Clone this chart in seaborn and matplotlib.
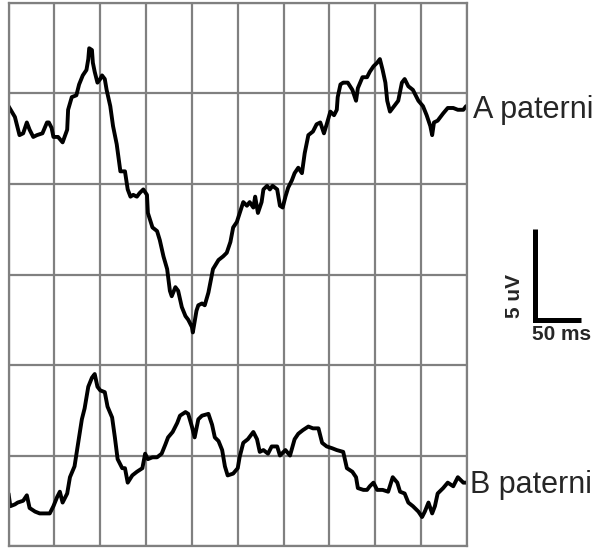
import numpy as np
import pandas as pd
import seaborn as sns
import matplotlib.pyplot as plt

sns.set_style("white")
plt.rcParams["font.family"] = ["Liberation Sans", "DejaVu Sans"]

# trace A (time in ms, amplitude in uV on the 0-30 uV grid)
a_time = [0, 7, 12, 16, 20, 23, 27, 31, 37, 42, 44, 47, 49, 54, 59, 64, 65, 69, 74, 77,
          81, 85, 87, 88, 91, 92, 94, 97, 100, 102, 105, 107, 111, 114, 118, 122, 127, 130,
          133, 136, 140, 143, 147, 151, 152, 157, 162, 165, 169, 173, 176, 178, 182, 185,
          189, 193, 196, 200, 201, 205, 207, 211, 214, 218, 223, 229, 234, 238, 242, 245,
          249, 254, 256, 260, 263, 267, 269, 272, 276, 278, 282, 285, 288, 293, 296, 299,
          302, 305, 309, 312, 316, 320, 323, 327, 332, 336, 340, 344, 347, 351, 355, 358,
          359, 362, 365, 370, 375, 379, 381, 386, 391, 394, 398, 402, 405, 408, 411, 413,
          416, 419, 425, 429, 432, 436, 441, 447, 452, 456, 460, 462, 464, 468, 474, 479,
          485, 490, 496, 499]
a_uv = [24.3, 23.7, 22.7, 22.8, 23.4, 23.0, 22.6, 22.7, 22.8, 23.4, 23.4, 23.1, 22.6, 22.6,
        22.3, 23.0, 24.1, 24.8, 24.9, 25.5, 26.0, 26.3, 26.9, 27.5, 27.4, 26.7, 26.2, 25.6,
        25.8, 26.0, 25.8, 25.2, 24.3, 23.2, 22.2, 20.7, 20.7, 19.7, 19.3, 19.4, 19.3, 19.5,
        19.7, 19.4, 18.4, 17.6, 17.4, 16.9, 16.0, 15.3, 14.1, 13.8, 14.3, 14.1, 13.2, 12.7,
        12.5, 12.1, 11.8, 13.0, 13.3, 13.4, 13.3, 14.0, 15.3, 15.8, 16.0, 16.2, 16.8, 17.6,
        17.9, 18.7, 19.0, 18.8, 19.0, 18.7, 19.3, 18.4, 19.0, 19.7, 19.9, 19.7, 19.9, 19.7,
        18.8, 18.7, 19.3, 19.8, 20.2, 20.6, 20.9, 20.6, 21.7, 22.7, 22.9, 23.3, 23.4, 22.8,
        23.3, 24.0, 23.8, 24.1, 24.8, 25.5, 25.6, 25.6, 25.2, 24.6, 25.3, 25.9, 25.9, 26.2,
        26.5, 26.7, 26.9, 26.3, 25.6, 24.6, 24.0, 24.2, 24.6, 25.6, 25.8, 25.4, 25.2, 24.6,
        24.3, 23.8, 23.2, 22.7, 23.4, 23.5, 23.9, 24.2, 24.2, 24.1, 24.1, 24.3]

# trace B
b_time = [0, 2, 7, 10, 16, 20, 23, 29, 34, 40, 45, 49, 53, 56, 59, 64, 67, 72, 76, 80, 83,
          87, 91, 94, 97, 100, 105, 108, 113, 116, 119, 124, 127, 130, 135, 140, 146, 149,
          152, 157, 162, 167, 171, 174, 179, 184, 187, 193, 196, 200, 203, 207, 211, 218,
          222, 225, 229, 233, 236, 239, 245, 250, 252, 256, 261, 267, 271, 274, 278, 283,
          287, 293, 296, 302, 307, 312, 316, 321, 327, 332, 338, 342, 347, 353, 358, 365,
          369, 375, 379, 381, 387, 391, 394, 398, 402, 408, 414, 419, 424, 427, 432, 436,
          441, 447, 451, 454, 458, 462, 465, 468, 474, 479, 485, 490, 496, 499]
b_uv = [2.9, 2.2, 2.3, 2.4, 2.5, 2.8, 2.1, 1.9, 1.8, 1.8, 1.8, 2.2, 2.7, 3.0, 2.4, 2.9, 3.8,
        4.4, 5.7, 7.0, 7.6, 8.8, 9.3, 9.5, 8.8, 8.6, 8.5, 7.7, 7.1, 6.0, 4.8, 4.3, 4.3, 3.5,
        3.9, 4.1, 4.3, 5.1, 4.8, 4.9, 4.9, 5.1, 5.6, 6.0, 6.3, 6.8, 7.2, 7.4, 7.3, 6.6, 6.0,
        7.0, 7.2, 7.3, 6.7, 6.0, 5.8, 5.3, 4.4, 3.9, 4.0, 4.3, 4.9, 5.7, 5.9, 6.3, 5.9, 5.2,
        5.3, 5.1, 5.5, 5.5, 5.0, 5.3, 5.0, 5.9, 6.2, 6.4, 6.6, 6.5, 6.5, 5.7, 5.5, 5.4, 5.3,
        5.2, 4.3, 4.1, 3.8, 3.2, 3.1, 3.1, 3.3, 3.5, 3.1, 3.1, 3.0, 3.8, 3.5, 3.0, 2.9, 2.4,
        2.2, 1.9, 1.6, 1.9, 2.4, 1.8, 2.2, 2.9, 3.2, 3.5, 3.3, 3.8, 3.5, 3.5]

labels = ["A paterni", "B paterni"]

df = pd.concat([
    pd.DataFrame({"ms": a_time, "uV": a_uv, "trace": labels[0]}),
    pd.DataFrame({"ms": b_time, "uV": b_uv, "trace": labels[1]}),
])

fig = plt.figure(figsize=(6.04, 5.49), dpi=100)
ax = fig.add_axes([8.5 / 604, 3 / 549, 458.5 / 604, 543 / 549])

sns.lineplot(data=df, x="ms", y="uV", units="trace", estimator=None, sort=False,
             color="black", lw=2.8, ax=ax, legend=False)

ax.set_xlim(0, 500)
ax.set_ylim(0, 30)
ax.set_xticks(np.arange(0, 501, 50))
ax.set_yticks(np.arange(0, 31, 5))
ax.grid(True, color="#808080", lw=1.6)
ax.tick_params(length=0, labelbottom=False, labelleft=False)
ax.set_xlabel("")
ax.set_ylabel("")
for s in ax.spines.values():
    s.set_color("#808080")
    s.set_linewidth(1.6)

# trace labels
ax.text(506, 23.65, labels[0], fontsize=22, ha="left", va="baseline", clip_on=False)
ax.text(503, 2.95, labels[1], fontsize=22, ha="left", va="baseline", clip_on=False)

# scale bar: 50 ms x 5 uV
ax.plot([574, 574, 624], [17.5, 12.5, 12.5], color="black", lw=3.6,
        solid_joinstyle="miter", solid_capstyle="butt", clip_on=False)
ax.text(552, 13.8, "5 uV", rotation=90, fontsize=15, fontweight="bold",
        ha="center", va="center", clip_on=False)
ax.text(571, 12.2, "50 ms", fontsize=15, fontweight="bold",
        ha="left", va="top", clip_on=False)

fig.savefig("out.png", dpi=100)
